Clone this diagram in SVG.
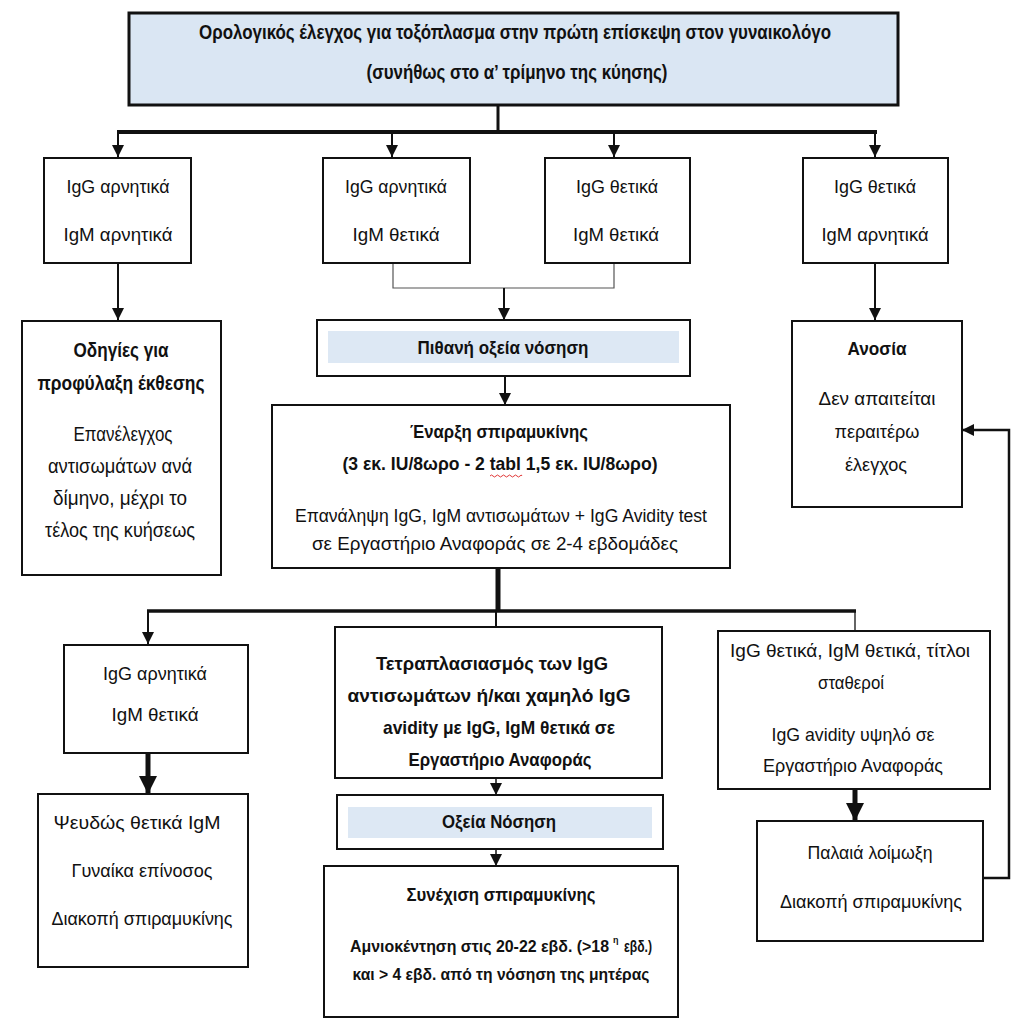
<svg xmlns="http://www.w3.org/2000/svg" width="1024" height="1034" viewBox="0 0 1024 1034">
<style>
svg{font-size:19px}
text{font-family:"Liberation Sans",Arial,sans-serif;fill:#111;text-anchor:middle}
.b{font-weight:bold}
.s{text-anchor:start}
.box{fill:#fff;stroke:#111;stroke-width:2}
.blue{fill:#dde8f4}
.c{stroke:#111;fill:none}
.thin{stroke:#555;stroke-width:1.2;fill:none}
</style>
<defs>
<marker id="ah" markerUnits="userSpaceOnUse" markerWidth="12" markerHeight="12" refX="12" refY="6" orient="auto"><path d="M0,0 L12,6 L0,12 z" fill="#111"/></marker>
<marker id="ahb" markerUnits="userSpaceOnUse" markerWidth="18" markerHeight="18" refX="18" refY="9" orient="auto"><path d="M0,0 L18,9 L0,18 z" fill="#111"/></marker>
</defs>

<g id="connectors">
<path class="c" d="M498,105 V132" stroke-width="3"/>
<path class="c" d="M117,132 H877" stroke-width="4"/>
<path class="c" d="M118,132 V157" stroke-width="2" marker-end="url(#ah)"/>
<path class="c" d="M392,132 V157" stroke-width="2" marker-end="url(#ah)"/>
<path class="c" d="M614,132 V157" stroke-width="2" marker-end="url(#ah)"/>
<path class="c" d="M875,132 V157" stroke-width="2" marker-end="url(#ah)"/>
<path class="c" d="M118,263 V320" stroke-width="2" marker-end="url(#ah)"/>
<path class="c" d="M875,263 V320" stroke-width="2" marker-end="url(#ah)"/>
<path class="thin" d="M393,263 V288 H614 V263"/>
<path class="c" d="M504,288 V320" stroke-width="2" marker-end="url(#ah)"/>
<path class="c" d="M505,376 V405" stroke-width="2" marker-end="url(#ah)"/>
<path class="c" d="M498,568 V611" stroke-width="5"/>
<path class="c" d="M147,611 H856" stroke-width="3.5"/>
<path class="c" d="M148,611 V644" stroke-width="2" marker-end="url(#ah)"/>
<path class="c" d="M496,611 V645" stroke-width="2" marker-end="url(#ah)"/>
<path class="c" d="M855,611 V645" stroke-width="1.3" marker-end="url(#ah)"/>
<path class="c" d="M148,753 V794" stroke-width="5" marker-end="url(#ahb)"/>
<path class="c" d="M496,778 V795" stroke-width="1.5" marker-end="url(#ah)"/>
<path class="c" d="M496,849 V866" stroke-width="1.5" marker-end="url(#ah)"/>
<path class="c" d="M855,789 V821" stroke-width="5" marker-end="url(#ahb)"/>
<path class="c" d="M983,878 H1009 V430 H962" stroke-width="2.5" marker-end="url(#ah)"/>
</g>

<g id="top">
<rect x="129" y="13" width="769" height="92" fill="#dae6f3" stroke="#111" stroke-width="3"/>
<text class="b" x="515" y="39" font-size="20" textLength="632" lengthAdjust="spacingAndGlyphs">Ορολογικός έλεγχος για τοξόπλασμα στην πρώτη επίσκεψη στον γυναικολόγο</text>
<text class="b" x="517" y="79" font-size="20" textLength="301" lengthAdjust="spacingAndGlyphs">(συνήθως στο α’ τρίμηνο της κύησης)</text>
</g>

<g id="n1">
<rect class="box" x="44" y="158" width="147" height="105"/>
<text x="118" y="193" textLength="103" lengthAdjust="spacingAndGlyphs">IgG αρνητικά</text>
<text x="118" y="241" textLength="109" lengthAdjust="spacingAndGlyphs">IgM αρνητικά</text>
</g>
<g id="n2">
<rect class="box" x="323" y="158" width="147" height="105"/>
<text x="396" y="193" textLength="102" lengthAdjust="spacingAndGlyphs">IgG αρνητικά</text>
<text x="396" y="241" textLength="87" lengthAdjust="spacingAndGlyphs">IgM θετικά</text>
</g>
<g id="n3">
<rect class="box" x="545" y="158" width="145" height="105"/>
<text x="617" y="193" textLength="82" lengthAdjust="spacingAndGlyphs">IgG θετικά</text>
<text x="616" y="241" textLength="86" lengthAdjust="spacingAndGlyphs">IgM θετικά</text>
</g>
<g id="n4">
<rect class="box" x="803" y="158" width="145" height="105"/>
<text x="875" y="193" textLength="82" lengthAdjust="spacingAndGlyphs">IgG θετικά</text>
<text x="875" y="241" textLength="107" lengthAdjust="spacingAndGlyphs">IgM αρνητικά</text>
</g>

<g id="n5">
<rect class="box" x="22" y="321" width="199" height="254"/>
<text class="b" x="121" y="357" font-size="20" textLength="95" lengthAdjust="spacingAndGlyphs">Οδηγίες για</text>
<text class="b" x="121" y="390" font-size="20" textLength="167" lengthAdjust="spacingAndGlyphs">προφύλαξη έκθεσης</text>
<text x="123" y="441" font-size="20" textLength="99" lengthAdjust="spacingAndGlyphs">Επανέλεγχος</text>
<text x="120" y="473" font-size="20" textLength="144" lengthAdjust="spacingAndGlyphs">αντισωμάτων ανά</text>
<text x="120" y="505" font-size="20" textLength="134" lengthAdjust="spacingAndGlyphs">δίμηνο, μέχρι το</text>
<text x="120" y="537" font-size="20" textLength="150" lengthAdjust="spacingAndGlyphs">τέλος της κυήσεως</text>
</g>

<g id="n6">
<rect class="box" x="317" y="320" width="373" height="56"/>
<rect class="blue" x="328" y="331" width="351" height="32"/>
<text class="b" x="503" y="354" textLength="171" lengthAdjust="spacingAndGlyphs">Πιθανή οξεία νόσηση</text>
</g>

<g id="n7">
<rect class="box" x="272" y="405" width="458" height="163"/>
<text class="b" x="499" y="438" textLength="178" lengthAdjust="spacingAndGlyphs">Έναρξη σπιραμυκίνης</text>
<text class="b" x="500" y="470" textLength="315" lengthAdjust="spacingAndGlyphs">(3 εκ. IU/8ωρο - 2 tabl 1,5 εκ. IU/8ωρο)</text>
<path d="M490,476 q1.5,-2 3,0 t3,0 t3,0 t3,0 t3,0 t3,0 t3,0 t3,0 t3,0 t3,0 t2,0" fill="none" stroke="#d22" stroke-width="0.9"/>
<text x="501" y="522" textLength="412" lengthAdjust="spacingAndGlyphs">Επανάληψη IgG, IgM αντισωμάτων + IgG Avidity test</text>
<text x="495" y="550" textLength="366" lengthAdjust="spacingAndGlyphs">σε Εργαστήριο Αναφοράς σε 2-4 εβδομάδες</text>
</g>

<g id="n8">
<rect class="box" x="792" y="321" width="170" height="186"/>
<text class="b" x="877" y="355" textLength="59" lengthAdjust="spacingAndGlyphs">Ανοσία</text>
<text x="877" y="405" textLength="117" lengthAdjust="spacingAndGlyphs">Δεν απαιτείται</text>
<text x="877" y="438" textLength="85" lengthAdjust="spacingAndGlyphs">περαιτέρω</text>
<text x="876" y="471" textLength="62" lengthAdjust="spacingAndGlyphs">έλεγχος</text>
</g>

<g id="n9">
<rect class="box" x="64" y="645" width="184" height="108"/>
<text x="155" y="680" textLength="104" lengthAdjust="spacingAndGlyphs">IgG αρνητικά</text>
<text x="155" y="721" textLength="87" lengthAdjust="spacingAndGlyphs">IgM θετικά</text>
</g>

<g id="n10">
<rect class="box" x="335" y="627" width="327" height="151"/>
<text class="b" x="492" y="670" textLength="232" lengthAdjust="spacingAndGlyphs">Τετραπλασιασμός των IgG</text>
<text class="b" x="489" y="702" textLength="283" lengthAdjust="spacingAndGlyphs">αντισωμάτων ή/και χαμηλό IgG</text>
<text class="b" x="499" y="734" textLength="232" lengthAdjust="spacingAndGlyphs">avidity με IgG, IgM θετικά σε</text>
<text class="b" x="500" y="766" textLength="183" lengthAdjust="spacingAndGlyphs">Εργαστήριο Αναφοράς</text>
</g>

<g id="n11">
<rect class="box" x="718" y="631" width="272" height="158"/>
<text x="850" y="657" textLength="240" lengthAdjust="spacingAndGlyphs">IgG θετικά, IgM θετικά, τίτλοι</text>
<text x="851" y="689" textLength="66" lengthAdjust="spacingAndGlyphs">σταθεροί</text>
<text x="853" y="741" textLength="163" lengthAdjust="spacingAndGlyphs">IgG avidity υψηλό σε</text>
<text x="853" y="772" textLength="180" lengthAdjust="spacingAndGlyphs">Εργαστήριο Αναφοράς</text>
</g>

<g id="n12">
<rect class="box" x="38" y="794" width="210" height="173"/>
<text x="137" y="829" textLength="167" lengthAdjust="spacingAndGlyphs">Ψευδώς θετικά IgM</text>
<text x="142" y="877" textLength="141" lengthAdjust="spacingAndGlyphs">Γυναίκα επίνοσος</text>
<text x="142" y="925" textLength="181" lengthAdjust="spacingAndGlyphs">Διακοπή σπιραμυκίνης</text>
</g>

<g id="n13">
<rect class="box" x="337" y="795" width="326" height="54"/>
<rect class="blue" x="348" y="807" width="304" height="31"/>
<text class="b" x="499" y="828" textLength="114" lengthAdjust="spacingAndGlyphs">Οξεία Νόσηση</text>
</g>

<g id="n14">
<rect class="box" x="324" y="866" width="354" height="151"/>
<text class="b" x="501" y="901" textLength="189" lengthAdjust="spacingAndGlyphs">Συνέχιση σπιραμυκίνης</text>
<text class="b s" x="350" y="952" font-size="17" textLength="259" lengthAdjust="spacingAndGlyphs">Αμνιοκέντηση στις 20-22 εβδ. (&gt;18</text>
<text class="b s" x="613" y="943" font-size="9">η</text>
<text class="b s" x="624" y="952" font-size="17" textLength="28" lengthAdjust="spacingAndGlyphs">εβδ.)</text>
<text class="b" x="501" y="980" font-size="17" textLength="297" lengthAdjust="spacingAndGlyphs">και &gt; 4 εβδ. από τη νόσηση της  μητέρας</text>
</g>

<g id="n15">
<rect class="box" x="757" y="821" width="226" height="120"/>
<text x="870" y="859" textLength="125" lengthAdjust="spacingAndGlyphs">Παλαιά λοίμωξη</text>
<text x="871" y="908" textLength="182" lengthAdjust="spacingAndGlyphs">Διακοπή σπιραμυκίνης</text>
</g>
</svg>
